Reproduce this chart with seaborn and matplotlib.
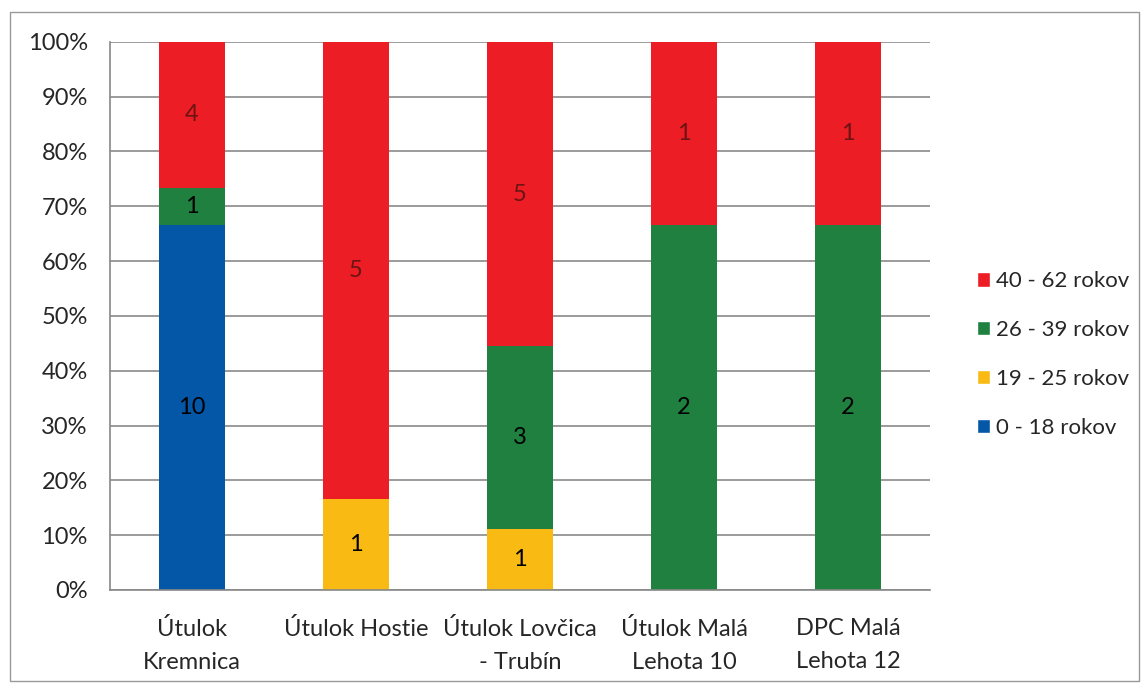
import numpy as np
import pandas as pd
import matplotlib.pyplot as plt
import seaborn as sns
from matplotlib.patches import Patch, Rectangle

categories = ['Útulok\nKremnica', 'Útulok Hostie', 'Útulok Lovčica\n- Trubín',
              'Útulok Malá\nLehota 10', 'DPC Malá\nLehota 12']
age_groups = ['0 - 18 rokov', '19 - 25 rokov', '26 - 39 rokov', '40 - 62 rokov']
count_0_18 = [10, 0, 0, 0, 0]
count_19_25 = [0, 1, 1, 0, 0]
count_26_39 = [1, 0, 3, 2, 2]
count_40_62 = [4, 5, 5, 1, 1]
colors = ['#0456A6', '#F9BA14', '#1F8040', '#EC1D25']
label_colors = ['black', 'black', 'black', '#6A1414']

sns.set_style('white')
plt.rcParams['font.family'] = ['Lato', 'DejaVu Sans']

counts = np.array([count_0_18, count_19_25, count_26_39, count_40_62], dtype=float)
share = counts / counts.sum(axis=0)
cum = share.cumsum(axis=0)

fig = plt.figure(figsize=(11.46, 6.86), dpi=100)
ax = fig.add_axes([0.096, 0.14, 0.7155, 0.799])

# draw cumulative bars from top layer down so they stack
for i in range(len(age_groups) - 1, -1, -1):
    df = pd.DataFrame({'category': categories, 'value': cum[i]})
    sns.barplot(data=df, x='category', y='value', color=colors[i], width=0.4,
                saturation=1, order=categories, ax=ax, zorder=2, linewidth=0)

# segment labels
for i in range(len(age_groups)):
    for j in range(len(categories)):
        if counts[i, j] > 0:
            mid = cum[i, j] - share[i, j] / 2
            ax.text(j, mid, f'{int(counts[i, j])}', ha='center', va='center',
                    fontsize=17, color=label_colors[i], zorder=3)

ax.set_ylim(0, 1)
ax.set_xlim(-0.5, len(categories) - 0.5)
ax.set_yticks(np.arange(0, 1.01, 0.1))
ax.set_yticklabels([f'{int(round(v * 100))}%' for v in np.arange(0, 1.01, 0.1)], fontsize=17)
ax.set_xticks(range(len(categories)))
ax.set_xticklabels(categories, fontsize=17, linespacing=1.75)
ax.set_xticks(np.arange(-0.5, len(categories)), minor=True)
ax.tick_params(axis='x', which='major', length=0, pad=20)
ax.tick_params(axis='x', which='minor', length=8, color='#888888', direction='out')
ax.tick_params(axis='y', length=7, color='#888888', direction='out', pad=9)
ax.yaxis.grid(True, color='#8a8a8a', linewidth=1.2, zorder=0)
ax.set_axisbelow(True)
ax.set_xlabel('')
ax.set_ylabel('')
for s in ['top', 'right']:
    ax.spines[s].set_visible(False)
for s in ['left', 'bottom']:
    ax.spines[s].set_color('#888888')
    ax.spines[s].set_linewidth(1.2)

handles = [Patch(facecolor=colors[i], label=age_groups[i]) for i in range(len(age_groups) - 1, -1, -1)]
fig.legend(handles=handles, loc='center left', bbox_to_anchor=(0.835, 0.483), frameon=False,
           fontsize=16, handlelength=0.6, handleheight=0.6, handletextpad=0.25, labelspacing=1.3)

fig.patches.append(Rectangle((0.009, 0.008), 0.985, 0.975, transform=fig.transFigure,
                             fill=False, edgecolor='#999999', linewidth=1))

fig.savefig('out.png', dpi=100)
